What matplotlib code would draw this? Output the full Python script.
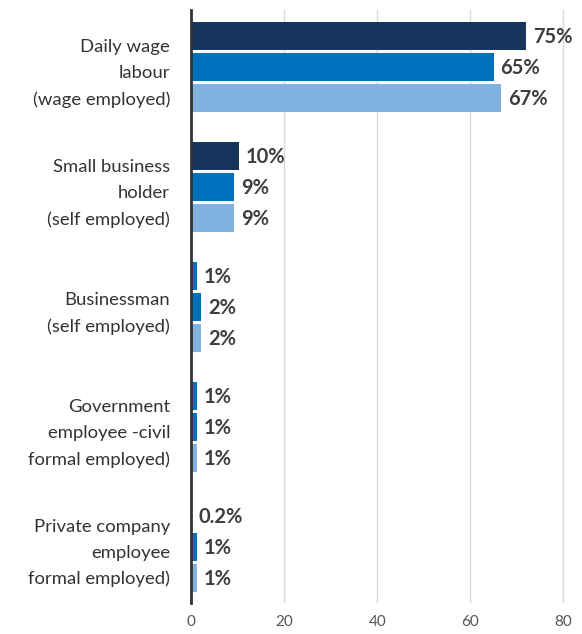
import numpy as np
import matplotlib
matplotlib.use("Agg")
import matplotlib.pyplot as plt

plt.rcParams['font.family'] = ['Lato', 'DejaVu Sans']

categories = [
    "Daily wage\nlabour\n(wage employed)",
    "Small business\nholder\n(self employed)",
    "Businessman\n(self employed)",
    "Government\nemployee -civil\nformal employed)",
    "Private company\nemployee\nformal employed)",
]
# three bars per category (values as drawn) and the printed labels
series_a = [72, 10.3, 1.3, 1.3, 0.2]
series_b = [65, 9.2, 2.1, 1.3, 1.3]
series_c = [66.6, 9.2, 2.1, 1.3, 1.3]
labels_a = ["75%", "10%", "1%", "1%", "0.2%"]
labels_b = ["65%", "9%", "2%", "1%", "1%"]
labels_c = ["67%", "9%", "2%", "1%", "1%"]

NAVY, MID, LIGHT = "#16345c", "#0071bc", "#82b2e0"
colors_a = [NAVY, NAVY, MID, MID, NAVY]

fig = plt.figure(figsize=(5.82, 6.34), dpi=100)
ax = fig.add_axes([191 / 582, 31 / 634, 391 / 582, 593 / 634])

y = np.arange(len(categories))
pitch, h = 0.258, 0.233
groups = [(series_a, labels_a, colors_a, -pitch),
          (series_b, labels_b, [MID] * 5, 0),
          (series_c, labels_c, [LIGHT] * 5, pitch)]
for vals, labs, cols, off in groups:
    ax.barh(y + off, vals, height=h, color=cols, zorder=3)
    for yi, v, lab in zip(y, vals, labs):
        ax.text(v + 1.5, yi + off + 0.01, lab, va="center", ha="left",
                fontsize=14.5, fontweight="bold", color="#3d3d3d", zorder=4)

ax.set_xlim(0, 84)
ax.set_ylim(len(categories) - 0.53, -0.475)
ax.set_xticks([0, 20, 40, 60, 80])
ax.set_yticks(y)
ax.set_yticklabels(categories, fontsize=13.3, color="#333333", linespacing=1.75)
ax.tick_params(axis="y", length=0, pad=15)
ax.tick_params(axis="x", length=0, pad=9, labelsize=11, labelcolor="#555555")
ax.grid(axis="x", color="#d9d9d9", linewidth=1, zorder=0)
for s in ["top", "right", "bottom"]:
    ax.spines[s].set_visible(False)
ax.spines["left"].set_color("#333333")
ax.spines["left"].set_linewidth(2)
ax.spines["left"].set_zorder(5)

fig.savefig("out.png", dpi=100)
